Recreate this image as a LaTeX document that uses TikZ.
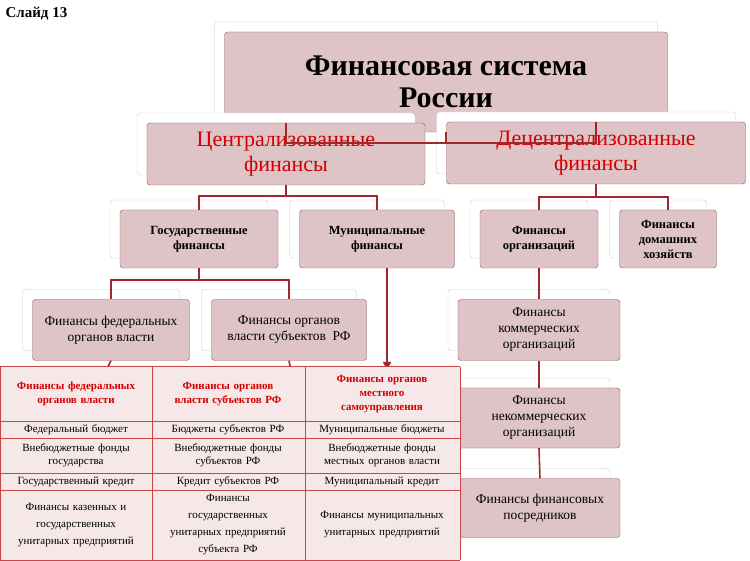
\documentclass[tikz,border=0pt]{standalone}
\usepackage{fontspec}
\setmainfont{Liberation Serif}
\usetikzlibrary{shadows, arrows.meta}
\definecolor{boxfill}{RGB}{222,196,199}
\definecolor{boxline}{RGB}{150,80,85}
\definecolor{linkred}{RGB}{160,40,45}
\definecolor{tabfill}{RGB}{246,232,232}
\definecolor{tabline}{RGB}{200,70,70}
\definecolor{headred}{RGB}{210,0,0}
\tikzset{
  card/.style={draw=boxline, fill=boxfill, rounded corners=3pt, align=center, inner sep=2pt,
    copy shadow={shadow xshift=-10pt, shadow yshift=10pt, fill=white, draw=gray!40}},
  link/.style={draw=linkred, line width=1.6pt},
  redarrow/.style={draw=linkred, line width=1.6pt, -{Triangle[width=8pt,length=8pt]}},
  cell/.style={font=\fontsize{11}{13}\selectfont, align=center, text width=148pt},
  headcell/.style={cell, font=\fontsize{11}{14}\selectfont\bfseries, text=headred}
}
\begin{document}
\begin{tikzpicture}[x=1pt, y=-1pt]
    \useasboundingbox (0,0) rectangle (750,561);
    \node[font=\fontsize{15}{17}\selectfont\bfseries, anchor=north west] (slide) at (2,4) {Слайд 13};

    % Top level
    \node[card, minimum width=443pt, minimum height=100pt, font=\fontsize{30}{32}\selectfont\bfseries] (root) at (446,82) {Финансовая система\\России};
    \node[card, minimum width=278pt, minimum height=62pt, font=\fontsize{22}{25}\selectfont, text=headred] (centr) at (286,154) {Централизованные\\финансы};
    \node[card, minimum width=299pt, minimum height=62pt, font=\fontsize{22}{25}\selectfont, text=headred] (decentr) at (596,153) {Децентрализованные\\финансы};

    % Third level
    \node[card, minimum width=158pt, minimum height=58pt, font=\fontsize{12.5}{15}\selectfont\bfseries] (gos) at (199,239) {Государственные\\финансы};
    \node[card, minimum width=155pt, minimum height=58pt, font=\fontsize{12.5}{15}\selectfont\bfseries] (mun) at (377,239) {Муниципальные\\финансы};
    \node[card, minimum width=118pt, minimum height=58pt, font=\fontsize{12.5}{15}\selectfont\bfseries] (org) at (539,239) {Финансы\\организаций};
    \node[card, minimum width=97pt, minimum height=58pt, font=\fontsize{12.5}{15}\selectfont\bfseries] (home) at (668,239) {Финансы\\домашних\\хозяйств};

    % Fourth level
    \node[card, minimum width=157pt, minimum height=61pt, font=\fontsize{13.5}{16}\selectfont] (fed) at (111,330) {Финансы федеральных\\органов власти};
    \node[card, minimum width=155pt, minimum height=61pt, font=\fontsize{13.5}{16}\selectfont] (subj) at (289,330) {Финансы органов\\власти субъектов~ РФ};
    \node[card, minimum width=162pt, minimum height=61pt, font=\fontsize{13.5}{16}\selectfont] (comm) at (539,330) {Финансы\\коммерческих\\организаций};
    \node[card, minimum width=162pt, minimum height=60pt, font=\fontsize{13.5}{16}\selectfont] (ncomm) at (539,418) {Финансы\\некоммерческих\\организаций};
    \node[card, minimum width=160pt, minimum height=59pt, font=\fontsize{13.5}{16}\selectfont] (medi) at (540,508) {Финансы финансовых\\посредников};

    % Connectors
    \draw[link] (root.south) -- ++(0,11) coordinate (r1);
    \draw[link] (centr.north) |- (r1) -| (decentr.north);
    \draw[link] (centr.south) -- ++(0,11) coordinate (c1);
    \draw[link] (gos.north) |- (c1) -| (mun.north);
    \draw[link] (decentr.south) -- ++(0,13) coordinate (d1);
    \draw[link] (org.north) |- (d1) -| (home.north);
    \draw[link] (gos.south) -- ++(0,12) coordinate (g1);
    \draw[link] (fed.north) |- (g1) -| (subj.north);
    \draw[link] (org.south) -- (comm.north);
    \draw[link] (comm.south) -- (ncomm.north);
    \draw[link] (ncomm.south) -- (medi.north);
    \coordinate (munend) at (387,370);
    \coordinate (fedend) at (103,376);
    \coordinate (subjend) at (292,376);
    \draw[redarrow] (mun.south -| munend) -- (munend);
    \draw[redarrow] (fed.south) -- (fedend);
    \draw[redarrow] (subj.south) -- (subjend);

    % Table
    \fill[tabfill] (0,367) rectangle (460,560);
    \foreach \yy in {367,421,438,473,490,560}
      \draw[tabline, line width=1pt] (0,\yy) -- (460,\yy);
    \foreach \xx in {0,152,305,460}
      \draw[tabline, line width=1pt] (\xx,367) -- (\xx,560);
    \node[headcell] (h1) at (76,394) {Финансы федеральных\\органов власти};
    \node[headcell] (h2) at (228,394) {Финансы органов\\власти субъектов РФ};
    \node[headcell] (h3) at (382,394) {Финансы органов\\местного\\самоуправления};
    \node[cell] (a1) at (76,429.5) {Федеральный бюджет};
    \node[cell] (a2) at (228,429.5) {Бюджеты субъектов РФ};
    \node[cell] (a3) at (382,429.5) {Муниципальные бюджеты};
    \node[cell] (b1) at (76,455.5) {Внебюджетные фонды\\государства};
    \node[cell] (b2) at (228,455.5) {Внебюджетные фонды\\субъектов РФ};
    \node[cell] (b3) at (382,455.5) {Внебюджетные фонды\\местных органов власти};
    \node[cell] (c1t) at (76,481.5) {Государственный кредит};
    \node[cell] (c2t) at (228,481.5) {Кредит субъектов РФ};
    \node[cell] (c3t) at (382,481.5) {Муниципальный кредит};
    \node[cell, font=\fontsize{11}{17}\selectfont] (d1t) at (76,525) {Финансы казенных и\\государственных\\унитарных предприятий};
    \node[cell, font=\fontsize{11}{17}\selectfont] (d2t) at (228,525) {Финансы\\государственных\\унитарных предприятий\\субъекта РФ};
    \node[cell, font=\fontsize{11}{17}\selectfont] (d3t) at (382,525) {Финансы муниципальных\\унитарных предприятий};
\end{tikzpicture}
\end{document}
